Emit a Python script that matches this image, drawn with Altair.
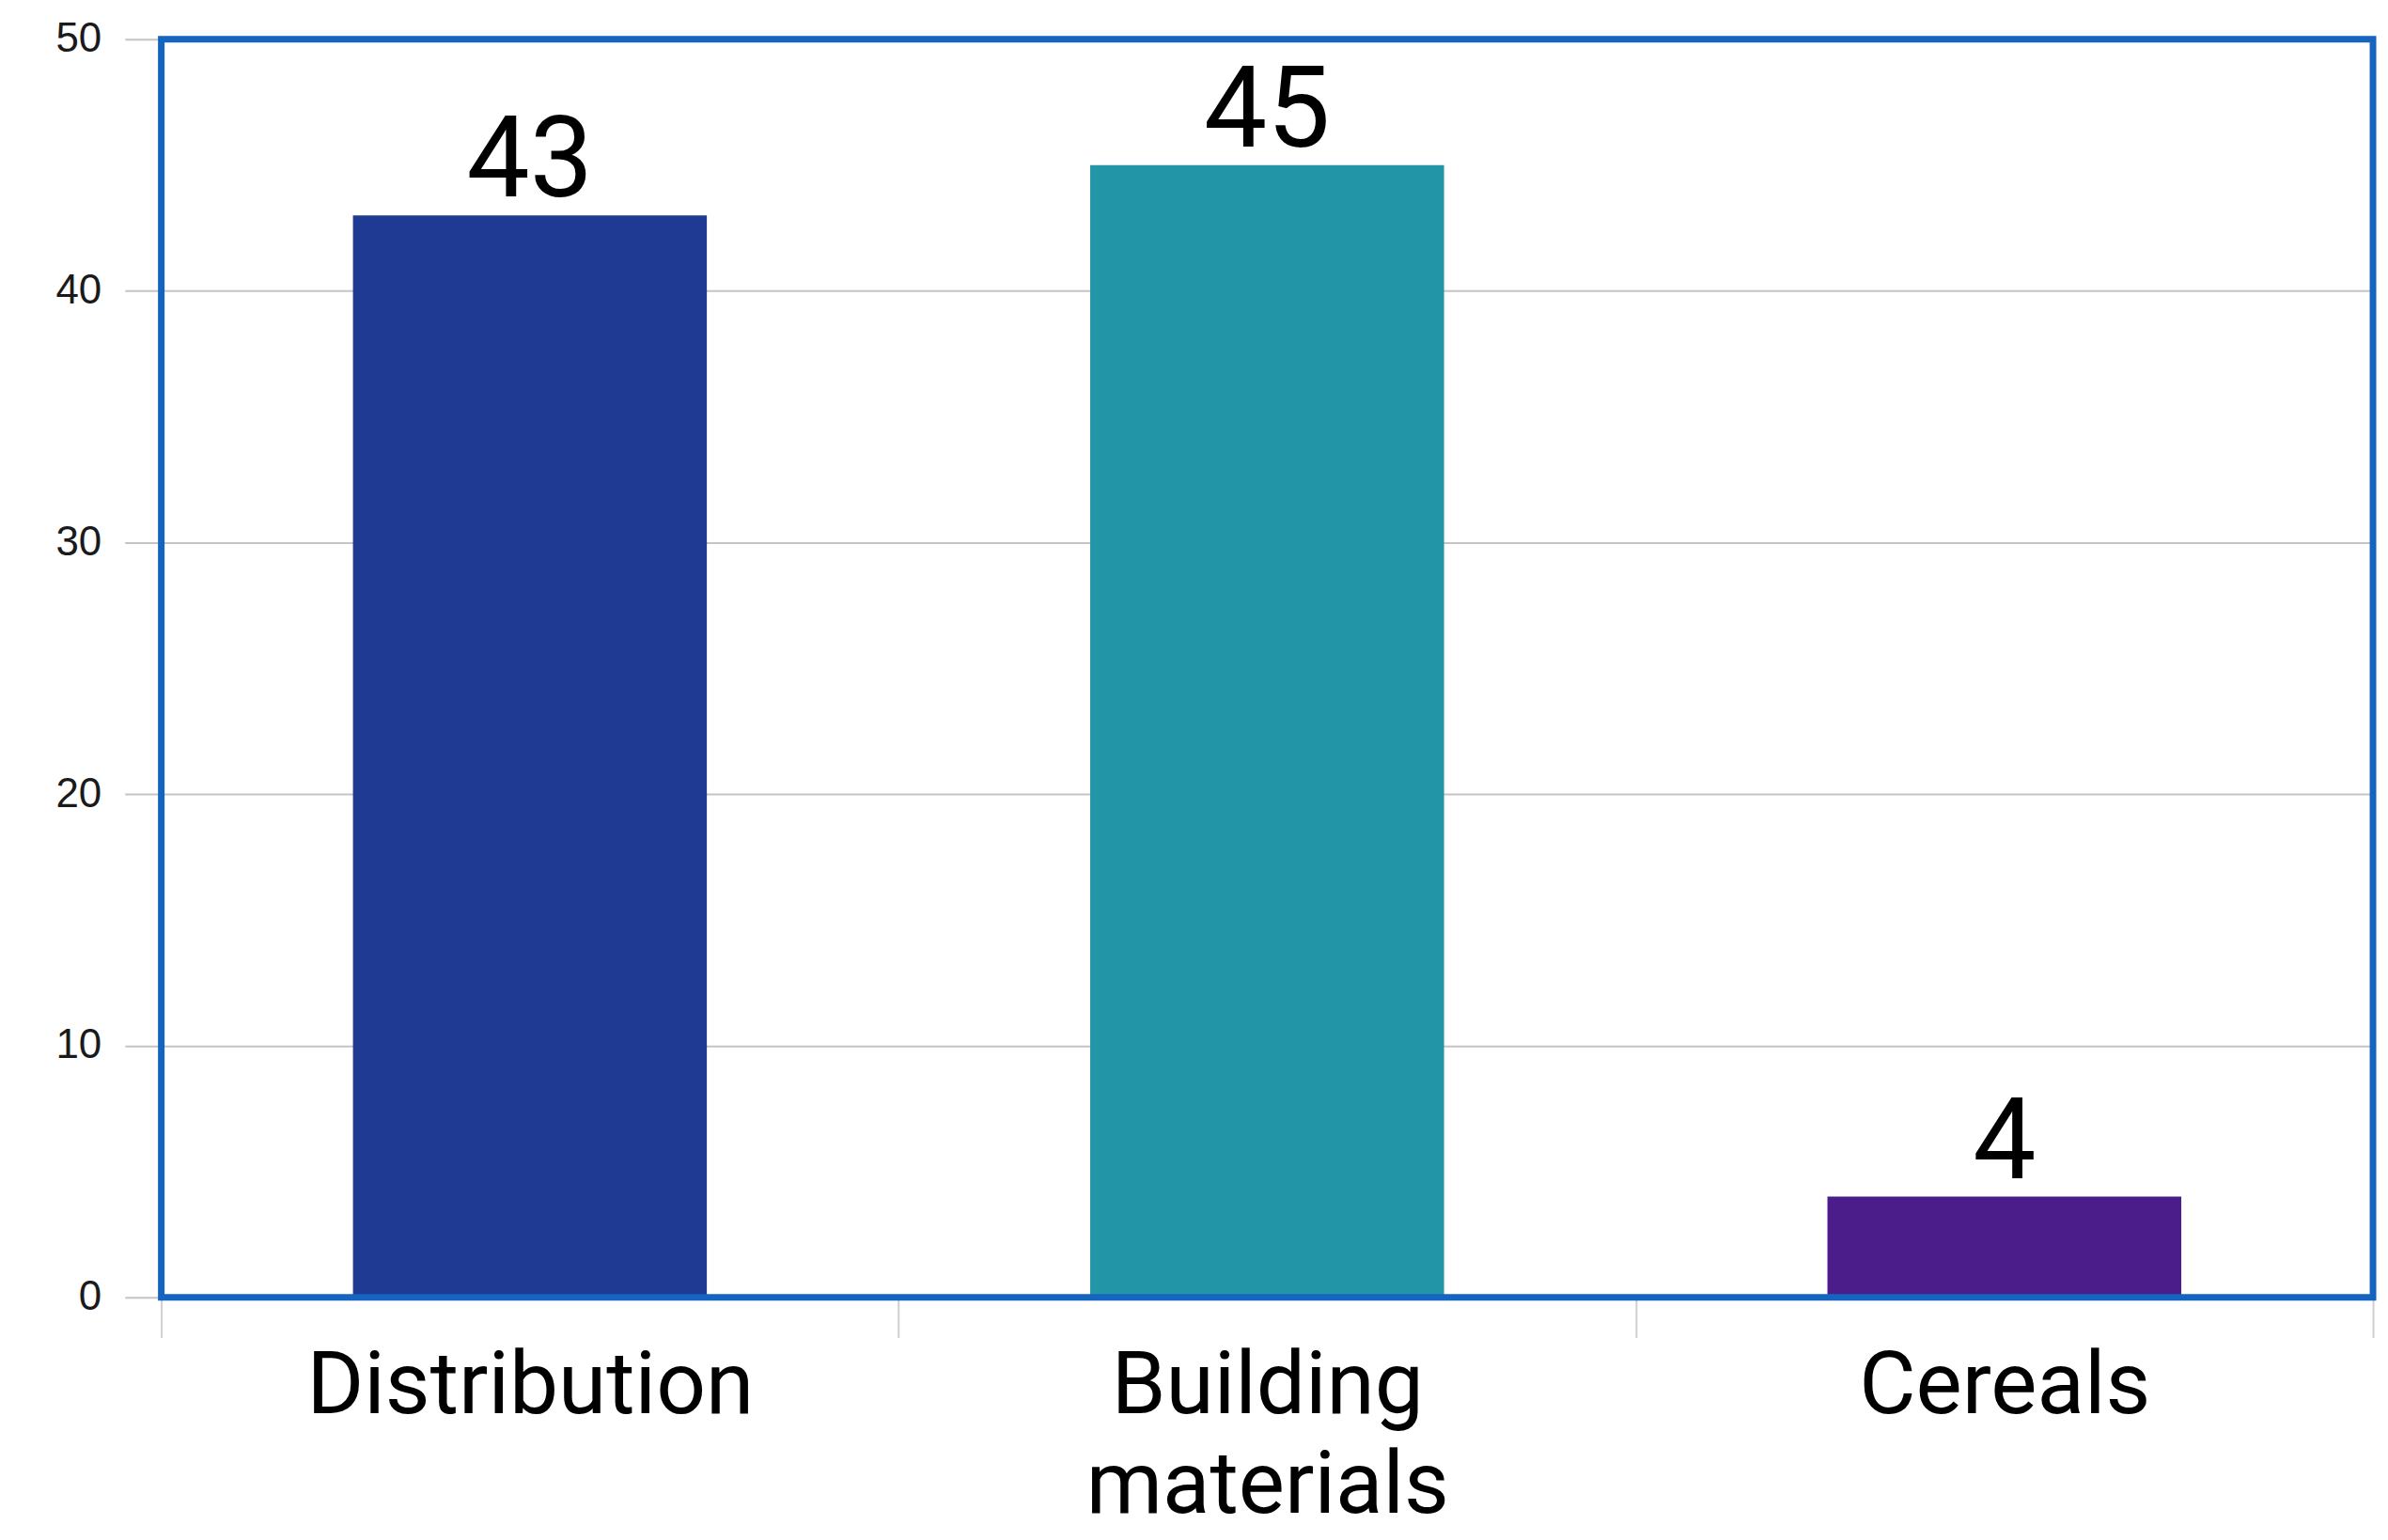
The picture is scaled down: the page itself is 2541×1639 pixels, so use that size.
import altair as alt
import pandas as pd

categories = ["Distribution", "Building materials", "Cereals"]
values = [43, 45, 4]
colors = ["#1F3A93", "#2296A6", "#4A1D8A"]
y_ticks = [0, 10, 20, 30, 40, 50]

W = 2359
H = 1342

df = pd.DataFrame({"category": categories, "value": values, "color": colors})

x_enc = alt.X(
    "category:N",
    sort=categories,
    title=None,
    scale=alt.Scale(paddingInner=0, paddingOuter=0),
    axis=alt.Axis(
        domain=False,
        grid=False,
        ticks=True,
        tickBand="extent",
        tickSize=43,
        tickWidth=2,
        tickColor="#CFCFCF",
        labelAngle=0,
        labelFont="Roboto",
        labelFontSize=93,
        labelColor="#000000",
        labelPadding=7,
        labelLineHeight=106,
        labelLimit=0,
        labelExpr="split(datum.label, ' ')",
    ),
)

y_enc = alt.Y(
    "value:Q",
    title=None,
    scale=alt.Scale(domain=[0, 50], nice=False),
    axis=alt.Axis(
        values=y_ticks,
        domain=False,
        grid=True,
        gridColor="#C4C4C4",
        gridWidth=2,
        ticks=True,
        tickSize=39,
        tickWidth=2,
        tickColor="#C4C4C4",
        labelFont="Liberation Sans",
        labelFontSize=44,
        labelColor="#1A1A1A",
        labelPadding=25,
    ),
)

base = alt.Chart(df)

bars = base.mark_bar(width=alt.RelativeBandSize(0.48)).encode(
    x=x_enc,
    y=y_enc,
    color=alt.Color("color:N", scale=None, legend=None),
)

labels = base.mark_text(
    font="Roboto",
    fontSize=120,
    color="#000000",
    baseline="alphabetic",
    align="center",
    dy=-20,
).encode(
    x=alt.X("category:N", sort=categories),
    y=alt.Y("value:Q"),
    text=alt.Text("value:Q"),
)

frame = alt.Chart(pd.DataFrame({"f": [0]})).mark_rect(
    filled=False, stroke="#1565C0", strokeWidth=7
).encode(
    x=alt.value(0), x2=alt.value(W), y=alt.value(0), y2=alt.value(H)
)

chart = (
    alt.layer(bars, labels, frame)
    .properties(
        width=W,
        height=H,
        autosize=alt.AutoSizeParams(type="none"),
        padding={"left": 164, "top": 32, "right": 8, "bottom": 249},
        background="#FFFFFF",
    )
    .configure_view(strokeWidth=0)
)

chart.save("out.html", embed_options={"renderer": "svg", "actions": False})
